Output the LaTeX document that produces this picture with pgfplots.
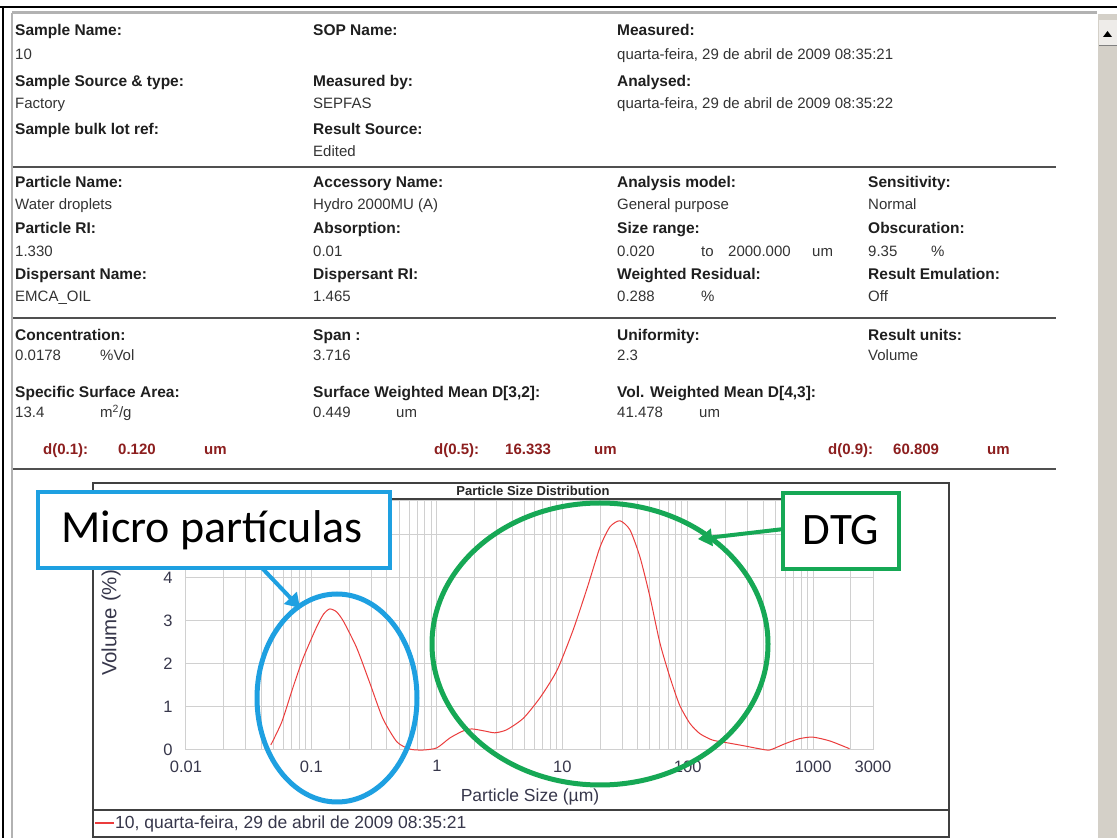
\documentclass[border=0pt]{standalone}
\usepackage{pgfplots}
\pgfplotsset{compat=1.18}
\usepackage{fontspec}
\setmainfont{Liberation Sans}
\newfontfamily\calibri{Carlito}
\usetikzlibrary{arrows.meta}
\definecolor{cblue}{RGB}{30,160,225}
\definecolor{cgreen}{RGB}{22,168,85}
\definecolor{dred}{RGB}{140,30,30}
\definecolor{gridc}{RGB}{208,208,208}
\definecolor{tickc}{RGB}{55,55,75}
\definecolor{sepc}{RGB}{80,80,80}
\definecolor{curvec}{RGB}{235,60,60}
\definecolor{sbar}{RGB}{212,208,200}
\newcommand{\lab}[3]{\node[anchor=base west,inner sep=0pt,font=\bfseries\fontsize{15.5}{16}\selectfont,text=black!88] at (#1,#2) {#3};}
\newcommand{\val}[3]{\node[anchor=base west,inner sep=0pt,font=\fontsize{15}{16}\selectfont,text=black!80] at (#1,#2) {#3};}
\newcommand{\rd}[3]{\node[anchor=base west,inner sep=0pt,font=\bfseries\fontsize{15}{15}\selectfont,text=dred] at (#1,#2) {#3};}
\begin{document}
\begin{tikzpicture}
\path[use as bounding box, fill=white] (0,0) rectangle (1117pt,838pt);
\begin{scope}[x=1pt,y=-1pt,yshift=838pt]
% window chrome
\draw[black, line width=2pt] (0,7) -- (1117,7);
\draw[black, line width=2.5pt] (3,7) -- (3,838);
\draw[gray!60, line width=3pt] (12,13) -- (1097,13);
\draw[gray!60, line width=2pt] (12,13) -- (12,838);
\fill[sbar] (1098,14) rectangle (1117,838);
\fill[sbar!40!white] (1099,20) rectangle (1117,45);
\draw[gray, line width=1pt] (1099,46) -- (1117,46);
\fill[black] (1103,37) -- (1112,37) -- (1107.5,31) -- cycle;
% separators
\foreach \yy in {167,318,469} {\draw[sepc, line width=2pt] (13,\yy) -- (1056,\yy);}
% section 1
\lab{15}{36}{Sample Name:}
\val{15}{60}{10}
\lab{15}{87}{Sample Source \& type:}
\val{15}{109}{Factory}
\lab{15}{135}{Sample bulk lot ref:}
\lab{313}{36}{SOP Name:}
\lab{313}{87}{Measured by:}
\val{313}{109}{SEPFAS}
\lab{313}{135}{Result Source:}
\val{313}{157}{Edited}
\lab{617}{36}{Measured:}
\val{617}{60}{quarta-feira, 29 de abril de 2009 08:35:21}
\lab{617}{87}{Analysed:}
\val{617}{109}{quarta-feira, 29 de abril de 2009 08:35:22}
% section 2
\lab{15}{188}{Particle Name:}
\val{15}{210}{Water droplets}
\lab{15}{234}{Particle RI:}
\val{15}{257}{1.330}
\lab{15}{280}{Dispersant Name:}
\val{15}{302}{EMCA\_OIL}
\lab{313}{188}{Accessory Name:}
\val{313}{210}{Hydro 2000MU (A)}
\lab{313}{234}{Absorption:}
\val{313}{257}{0.01}
\lab{313}{280}{Dispersant RI:}
\val{313}{302}{1.465}
\lab{617}{188}{Analysis model:}
\val{617}{210}{General purpose}
\lab{617}{234}{Size range:}
\val{617}{257}{0.020}
\val{701}{257}{to}
\val{728}{257}{2000.000}
\val{812}{257}{um}
\lab{617}{280}{Weighted Residual:}
\val{617}{302}{0.288}
\val{701}{302}{\%}
\lab{868}{188}{Sensitivity:}
\val{868}{210}{Normal}
\lab{868}{234}{Obscuration:}
\val{868}{257}{9.35}
\val{931}{257}{\%}
\lab{868}{280}{Result Emulation:}
\val{868}{302}{Off}
% section 3
\lab{15}{341}{Concentration:}
\val{15}{361}{0.0178}
\val{100}{361}{\%Vol}
\lab{15}{398}{Specific Surface Area:}
\val{15}{418}{13.4}
\val{100}{418}{m\textsuperscript{2}/g}
\lab{313}{341}{Span :}
\val{313}{361}{3.716}
\lab{313}{398}{Surface Weighted Mean D[3,2]:}
\val{313}{418}{0.449}
\val{396}{418}{um}
\lab{617}{341}{Uniformity:}
\val{617}{361}{2.3}
\lab{617}{398}{Vol. Weighted Mean D[4,3]:}
\val{617}{418}{41.478}
\val{699}{418}{um}
\lab{868}{341}{Result units:}
\val{868}{361}{Volume}
% red row
\rd{43}{455}{d(0.1):}
\rd{118}{455}{0.120}
\rd{204}{455}{um}
\rd{434}{455}{d(0.5):}
\rd{505}{455}{16.333}
\rd{594}{455}{um}
\rd{828}{455}{d(0.9):}
\rd{893}{455}{60.809}
\rd{987}{455}{um}
% plot frame
\draw[black!75, line width=1.5pt] (93,483) rectangle (949,837);
\draw[black!75, line width=1.2pt] (93,810) -- (949,810);
\draw[black!75, line width=1.2pt] (186,499) -- (873,499);
\node[font=\bfseries\fontsize{13}{13}\selectfont, text=black!85] at (533,491) {Particle Size Distribution};
\end{scope}

\begin{axis}[
  at={(186pt,88pt)}, anchor=south west,
  scale only axis, width=687pt, height=249pt,
  xmode=log, xmin=0.01, xmax=3000, ymin=0, ymax=5.79,
  xtick={0.01,0.1,1,10,100,1000,3000},
  xticklabels={0.01,0.1,1,10,100,1000,3000},
  minor xtick={0.02,0.03,0.04,0.05,0.06,0.07,0.08,0.09,0.2,0.3,0.4,0.5,0.6,0.7,0.8,0.9,2,3,4,5,6,7,8,9,20,30,40,50,60,70,80,90,200,300,400,500,600,700,800,900,2000},
  ytick={0,1,2,3,4,5},
  yticklabels={0,1,2,3,4,},
  grid=both,
  major grid style={gridc, line width=1pt},
  minor grid style={gridc, line width=1pt},
  axis line style={draw=gridc, line width=1pt},
  tick style={draw=none},
  ticklabel style={font=\fontsize{16.5}{16.5}\selectfont, text=tickc},
  /pgf/number format/assume math mode=true,
  yticklabel style={xshift=-10pt},
  xticklabel style={yshift=-7pt},
  clip=false,
]
\addplot[curvec, line width=1pt, smooth, tension=0.4] coordinates {
(0.0475,0.12) (0.058,0.65) (0.071,1.44) (0.086,2.14) (0.110,2.86) (0.125,3.16)
(0.140,3.28) (0.159,3.21) (0.181,2.98) (0.230,2.37) (0.292,1.56) (0.370,0.74)
(0.48,0.19) (0.61,0.02) (0.78,0.0) (1.0,0.05) (1.27,0.28) (1.61,0.44) (1.90,0.49)
(2.42,0.44) (2.9,0.40) (3.6,0.47) (4.9,0.74) (6.7,1.23) (9.1,1.86) (12.2,2.79)
(15.8,3.77) (20.0,4.72) (24.0,5.19) (28.8,5.33) (34.6,5.12) (41.6,4.49) (50,3.56)
(60,2.49) (72,1.70) (86,1.05) (104,0.62) (125,0.38) (158,0.23) (214,0.16)
(290,0.09) (370,0.03) (450,0.0) (590,0.14) (770,0.26) (990,0.30) (1360,0.21) (1950,0.03)
};
\end{axis}

\begin{scope}[x=1pt,y=-1pt,yshift=838pt]
\node[font=\fontsize{17.5}{17.5}\selectfont, text=tickc] at (530,797) {Particle Size (µm)};
\node[font=\fontsize{20.5}{20.5}\selectfont, text=tickc, rotate=90] at (111,623) {Volume (\%)};
\draw[curvec, line width=1.2pt] (95,823) -- (114,823);
\node[anchor=base west, inner sep=0pt, font=\fontsize{17.5}{17.5}\selectfont, text=tickc] at (115,829) {10, quarta-feira, 29 de abril de 2009 08:35:21};
% annotations
\draw[cblue, line width=5pt] (337,698) ellipse [x radius=80pt, y radius=104pt];
\draw[cgreen, line width=5pt] (600,644) ellipse [x radius=168pt, y radius=141pt];
\draw[cblue, line width=4pt, -{Triangle[length=14pt,width=17pt]}] (262,568) -- (300,608);
\draw[cgreen, line width=4pt, -{Triangle[length=14pt,width=17pt]}] (784,529) -- (698,539);
\draw[cblue, line width=4pt, fill=white] (38,492) rectangle (390,568);
\node[font=\calibri\fontsize{46}{46}\selectfont] at (212,530) {Micro partículas};
\draw[cgreen, line width=4pt, fill=white] (783,493) rectangle (899,569);
\node[font=\calibri\fontsize{45}{45}\selectfont] at (841,530) {DTG};
\end{scope}
\end{tikzpicture}
\end{document}
